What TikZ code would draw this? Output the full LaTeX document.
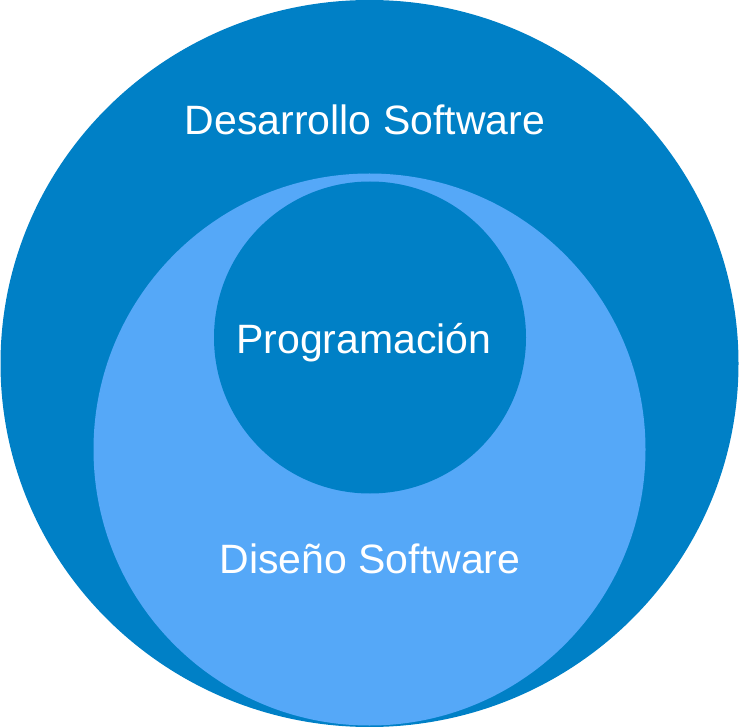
\documentclass[tikz,border=0pt]{standalone}
\usepackage{fontspec}
\setmainfont{Liberation Sans}
\definecolor{darkblue}{HTML}{0080C6}
\definecolor{lightblue}{HTML}{55A8F8}
\begin{document}
\begin{tikzpicture}[x=1pt,y=-1pt,
  lbl/.style={text=white,anchor=base,inner sep=0pt,font=\fontsize{41}{48}\selectfont}]
\useasboundingbox (0,0) rectangle (739,727);
\fill[darkblue] (369.5,363.5) ellipse [x radius=369, y radius=363.5];
\fill[lightblue] (369.5,449.5) circle [radius=276];
\fill[darkblue] (370,337.5) circle [radius=156];
\node[lbl] (des) at (365,135) {Desarrollo Software};
\node[lbl] (prog) at (364,353) {Programación};
\node[lbl] (dis) at (370,573) {Diseño Software};
\end{tikzpicture}
\end{document}
